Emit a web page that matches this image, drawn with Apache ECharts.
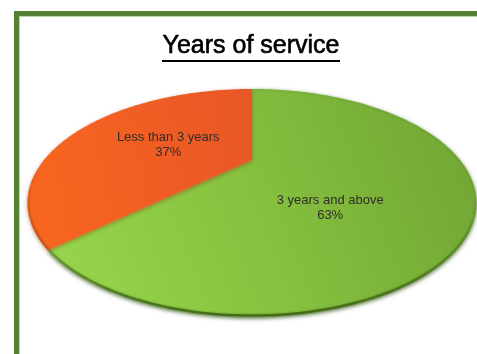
<!DOCTYPE html>
<html>
<head>
<meta charset="utf-8">
<script src="https://cdn.jsdelivr.net/npm/echarts@6/dist/echarts.min.js"></script>
<style>
html,body{margin:0;padding:0;background:#fff;}
#chart{width:477px;height:354px;}
</style>
</head>
<body>
<div id="chart"></div>
<script>
// ---- data ----
const titleText = 'Years of service';
const categories = ['3 years and above', 'Less than 3 years'];
const values = [63, 37];

// ---- style / layout ----
const FONT = "'Liberation Sans', Arial, Helvetica, sans-serif";
const CX = 252, CY = 160;      // projected pie centre (vertex)
const A = 208, B = 97.8, P = 0.377; // tilt/perspective of the pie
const labelT = 0.5;
const labelOffsets = [[-25, 27], [5, 3]];
const sliceFills = [
  {type:'linear', global:true, x:40, y:300, x2:470, y2:130,
   colorStops:[{offset:0,color:'#98d84c'},{offset:0.5,color:'#86c13f'},{offset:1,color:'#72a634'}]},
  {type:'linear', global:true, x:30, y:200, x2:252, y2:160,
   colorStops:[{offset:0,color:'#f9661f'},{offset:1,color:'#e95727'}]}
];
const shadowColors = ['rgba(45,80,15,0.75)', 'rgba(130,45,0,0.45)'];
const rimStrokes = [
  {type:'linear', global:true, x:0, y:200, x2:0, y2:318,
   colorStops:[{offset:0,color:'rgba(60,100,25,0.05)'},{offset:1,color:'rgba(55,95,20,0.85)'}]},
  {type:'linear', global:true, x:0, y:160, x2:0, y2:270,
   colorStops:[{offset:0,color:'rgba(170,60,10,0)'},{offset:1,color:'rgba(170,60,10,0.5)'}]}
];

const total = values.reduce((a, b) => a + b, 0);

function proj(theta, t) {
  const u = t * Math.sin(theta), v = t * Math.cos(theta);
  const w = 1 + P * v;
  return [CX + A * u / w, CY - B * v / w];
}

function renderItem(params, api) {
  const i = params.dataIndex;
  const val = api.value(0);
  let before = 0;
  for (let k = 0; k < i; k++) before += values[k];
  const a0 = before / total * 2 * Math.PI;
  const a1 = (before + val) / total * 2 * Math.PI;
  const arc = [];
  const steps = 160;
  for (let s = 0; s <= steps; s++) {
    arc.push(proj(a0 + (a1 - a0) * s / steps, 1));
  }
  const pts = [[CX, CY]].concat(arc);
  const rim = arc.map(p => [p[0] + (p[0] - 252) * -0.006, p[1] + (p[1] - 203) * -0.012]);
  const mid = (a0 + a1) / 2;
  const lp = proj(mid, labelT);
  const off = labelOffsets[i];
  const pct = Math.round(val / total * 100);
  return {
    type: 'group',
    children: [
      {
        type: 'polygon',
        shape: { points: pts },
        style: {
          fill: sliceFills[i],
          shadowColor: shadowColors[i],
          shadowBlur: 4,
          shadowOffsetY: 1.5
        }
      },
      {
        type: 'polyline',
        shape: { points: rim },
        style: { fill: null, stroke: rimStrokes[i], lineWidth: 2.5, shadowBlur: 3, shadowColor: 'rgba(40,70,10,0.4)' }
      },
      {
        type: 'text',
        z2: 10,
        style: {
          text: categories[i] + '\n' + pct + '%',
          x: lp[0] + off[0],
          y: lp[1] + off[1],
          align: 'center',
          verticalAlign: 'middle',
          fontSize: 13,
          fontFamily: FONT,
          lineHeight: 15,
          fill: '#302d2a'
        }
      }
    ]
  };
}

const chart = echarts.init(document.getElementById('chart'), null, { renderer: 'canvas' });
chart.setOption({
  backgroundColor: '#ffffff',
  animation: false,
  graphic: [
    { type: 'rect', shape: { x: 14, y: 11, width: 463, height: 5 }, style: { fill: '#548235' }, z: 10 },
    { type: 'rect', shape: { x: 14, y: 11, width: 5, height: 343 }, style: { fill: '#548235' }, z: 10 },
    { type: 'rect', shape: { x: 19, y: 16, width: 1, height: 338 }, style: { fill: '#b9d9a3' }, z: 10 },
    { type: 'rect', shape: { x: 19, y: 16, width: 458, height: 1 }, style: { fill: '#b9d9a3' }, z: 10 },
    {
      type: 'text', z: 10,
      style: {
        text: titleText, x: 251, y: 46, align: 'center', verticalAlign: 'middle',
        fontSize: 25, fontFamily: FONT, fill: '#000', stroke: '#000', lineWidth: 0.6
      }
    },
    { type: 'line', z: 10, shape: { x1: 162, y1: 61, x2: 340, y2: 61 }, style: { stroke: '#000', lineWidth: 2 } }
  ],
  series: [{
    type: 'custom',
    coordinateSystem: 'none',
    renderItem: renderItem,
    data: values.map((v, i) => ({ name: categories[i], value: [v] }))
  }]
});
</script>
</body>
</html>
